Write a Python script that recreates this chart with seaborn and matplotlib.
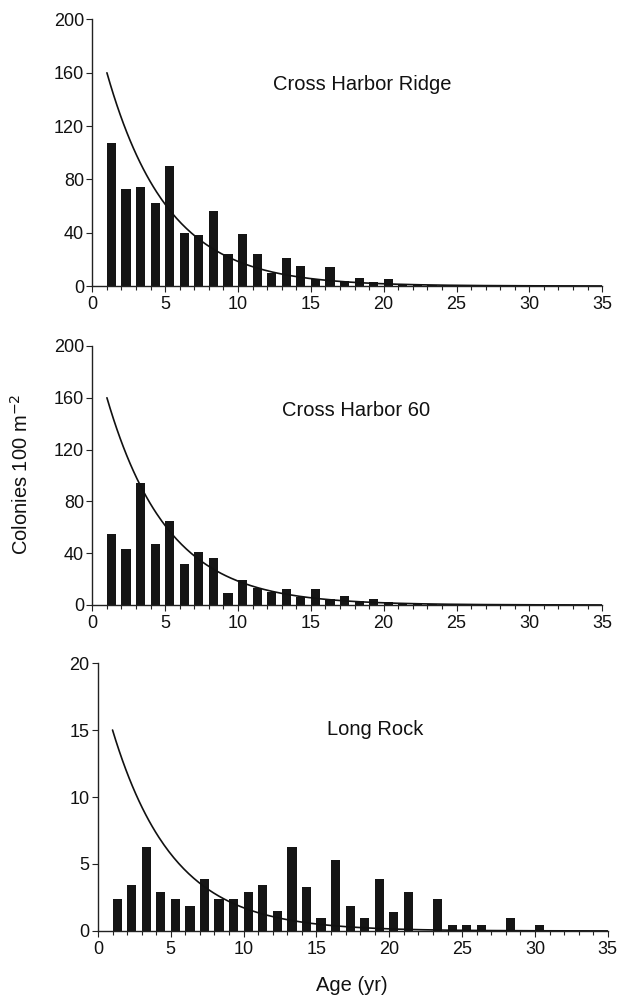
import numpy as np
import pandas as pd
import matplotlib
matplotlib.use('Agg')
import matplotlib.pyplot as plt
from matplotlib.ticker import MultipleLocator
import seaborn as sns

# Age classes (yr)
ages = np.arange(1, 36)

# Colonies per 100 m2 for each age class
ridge = [107, 73, 74, 62, 90, 40, 38, 56, 24, 39, 24, 10, 21, 15, 5, 14, 4, 6, 3, 5,
         1.5, 1.5, 0.8, 0.7, 0.6, 0.6, 0.5, 0.5, 0, 0, 0, 0, 0, 0, 0]
harbor60 = [55, 43, 94, 47, 65, 32, 41, 36, 9, 19, 13, 10, 12, 6, 12, 4.6, 7, 3, 4.6, 2,
            1.8, 1, 1, 0.3, 0.3, 0.3, 0.3, 0.3, 0.3, 0.3, 0.3, 0.3, 0.3, 0.3, 0]
long_rock = [2.4, 3.4, 6.3, 2.9, 2.4, 1.9, 3.9, 2.4, 2.4, 2.9, 3.4, 1.5, 6.3, 3.3, 0.95,
             5.3, 1.9, 0.95, 3.9, 1.45, 2.9, 0, 2.4, 0.45, 0.45, 0.45, 0, 0.95, 0, 0.45,
             0, 0, 0, 0, 0]

# Exponential fit y = a * exp(-k * (age - 1))
fit_a = [160, 160, 15]
fit_k = 0.24

site_names = ['Cross Harbor Ridge', 'Cross Harbor 60', 'Long Rock']
y_max = [200, 200, 20]
y_step = [40, 40, 5]
label_pos = [(18.5, 147), (18.1, 146), (19.0, 14.6)]

sns.set_style('ticks')
plt.rcParams['font.family'] = ['Liberation Sans', 'DejaVu Sans']

fig = plt.figure(figsize=(6.24, 9.99), dpi=100)
# axes boxes in figure fractions
boxes = [[0.148, 0.7137, 0.817, 0.2668],
         [0.148, 0.3944, 0.817, 0.2593],
         [0.157, 0.0681, 0.817, 0.2682]]

bar_color = '#151515'
for i, counts in enumerate([ridge, harbor60, long_rock]):
    ax = fig.add_axes(boxes[i])
    df = pd.DataFrame({'pos': ages + 0.315, 'count': counts})
    sns.barplot(data=df, x='pos', y='count', native_scale=True, width=0.63,
                color=bar_color, saturation=1, linewidth=0, errorbar=None, ax=ax)

    xs = np.linspace(1, 35, 300)
    fit_df = pd.DataFrame({'age': xs, 'fit': fit_a[i] * np.exp(-fit_k * (xs - 1))})
    sns.lineplot(data=fit_df, x='age', y='fit', color='#111111', linewidth=1.2, ax=ax)

    ax.set_xlim(0, 35)
    ax.set_ylim(0, y_max[i])
    ax.set_yticks(np.arange(0, y_max[i] + 1, y_step[i]))
    ax.set_xticks(np.arange(0, 36, 5))
    ax.xaxis.set_minor_locator(MultipleLocator(1))
    ax.tick_params(axis='both', which='major', labelsize=13, length=4, width=0.8,
                   color='#222222', labelcolor='#111111')
    ax.tick_params(axis='y', which='major', pad=2)
    ax.tick_params(axis='x', which='major', pad=3)
    ax.tick_params(axis='x', which='minor', length=3, width=0.8, color='#222222')
    ax.set_xlabel('')
    ax.set_ylabel('')
    for s in ['left', 'bottom']:
        ax.spines[s].set_linewidth(1.0)
        ax.spines[s].set_color('#222222')
    sns.despine(ax=ax)
    ax.text(label_pos[i][0], label_pos[i][1], site_names[i], ha='center', va='baseline',
            fontsize=14.5, color='#111111')

fig.text(0.034, 0.5255, 'Colonies 100 m$^{-2}$', rotation=90, ha='center', va='center',
         fontsize=14.5, color='#111111')
fig.text(0.5636, 0.014, 'Age (yr)', ha='center', va='center', fontsize=14.5, color='#111111')

fig.savefig('out.png', dpi=100)
